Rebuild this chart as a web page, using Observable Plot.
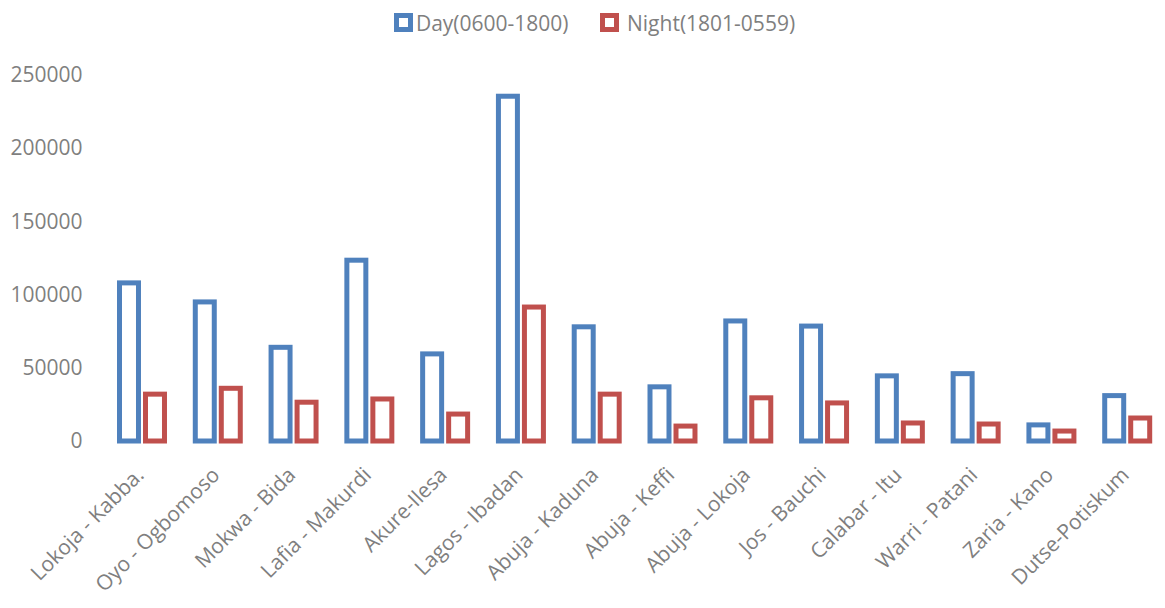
<!DOCTYPE html>
<html>
<head>
<meta charset="utf-8">
<script src="https://cdn.jsdelivr.net/npm/d3@7"></script>
<script src="https://cdn.jsdelivr.net/npm/@observablehq/plot@0.6"></script>
<style>
  html, body { margin: 0; padding: 0; background: #fff; }
  body { width: 1165px; height: 608px; overflow: hidden; font-family: "Open Sans", sans-serif; }
  #legend { height: 45px; display: flex; justify-content: center; align-items: center; padding-left: 24px; box-sizing: border-box; color: #7f7f7f; font-size: 21px; }
  .item { display: flex; align-items: center; }
  .swatch { width: 19px; height: 19px; box-sizing: border-box; border: 5px solid; background: #fff; margin-right: 3px; }
  .gap { width: 31px; }
</style>
</head>
<body>
<div id="legend"></div>
<div id="chart"></div>
<script>
const routes = ["Lokoja - Kabba.", "Oyo - Ogbomoso", "Mokwa - Bida", "Lafia - Makurdi", "Akure-Ilesa", "Lagos - Ibadan", "Abuja - Kaduna", "Abuja - Keffi", "Abuja - Lokoja", "Jos - Bauchi", "Calabar - Itu", "Warri - Patani", "Zaria - Kano", "Dutse-Potiskum"];
const dayValues = [108000, 95000, 64000, 123500, 59500, 235500, 78000, 37000, 82000, 78500, 44500, 46000, 11000, 31000];
const nightValues = [32000, 36000, 26500, 28700, 18400, 91500, 32000, 10200, 29500, 26000, 12300, 11600, 6800, 15700];
const seriesNames = ["Day(0600-1800)", " Night(1801-0559)"];
const seriesColors = ["#4F81BD", "#C0504D"];
const yTicks = [0, 50000, 100000, 150000, 200000, 250000];

// Legend
const legend = document.getElementById("legend");
seriesNames.forEach((name, i) => {
  if (i > 0) { const g = document.createElement("div"); g.className = "gap"; legend.appendChild(g); }
  const item = document.createElement("div");
  item.className = "item";
  const sw = document.createElement("div");
  sw.className = "swatch";
  sw.style.borderColor = seriesColors[i];
  const label = document.createElement("span");
  label.textContent = name;
  label.style.whiteSpace = "pre";
  item.appendChild(sw);
  item.appendChild(label);
  legend.appendChild(item);
});

const dayData = routes.map((r, i) => ({route: r, value: dayValues[i]}));
const nightData = routes.map((r, i) => ({route: r, value: nightValues[i]}));

const chart = Plot.plot({
  width: 1165,
  height: 563,
  marginLeft: 104,
  marginRight: 0,
  marginTop: 30,
  marginBottom: 167,
  style: {fontFamily: "Open Sans, sans-serif", fontSize: "21px", color: "#7f7f7f", background: "#fff", overflow: "visible"},
  x: {domain: routes, padding: 0, round: false, label: null, axis: null},
  y: {domain: [0, 250000], label: null},
  marks: [
    Plot.barY(dayData, {x: "route", y: "value", fill: "#fff", stroke: seriesColors[0], strokeWidth: 5, insetLeft: 15.5, insetRight: 41.3}),
    Plot.barY(nightData, {x: "route", y: "value", fill: "#fff", stroke: seriesColors[1], strokeWidth: 5, insetLeft: 41.5, insetRight: 15.3}),
    Plot.axisY({ticks: yTicks, tickSize: 0, tickPadding: 22, tickFormat: d3.format("d"), fill: "#7f7f7f", label: null}),
    Plot.text(routes, {x: d => d, frameAnchor: "bottom", textAnchor: "end", lineAnchor: "middle", rotate: -45, dx: -2, dy: 30, fill: "#7f7f7f", fontSize: 21})
  ]
});
document.getElementById("chart").appendChild(chart);
</script>
</body>
</html>
